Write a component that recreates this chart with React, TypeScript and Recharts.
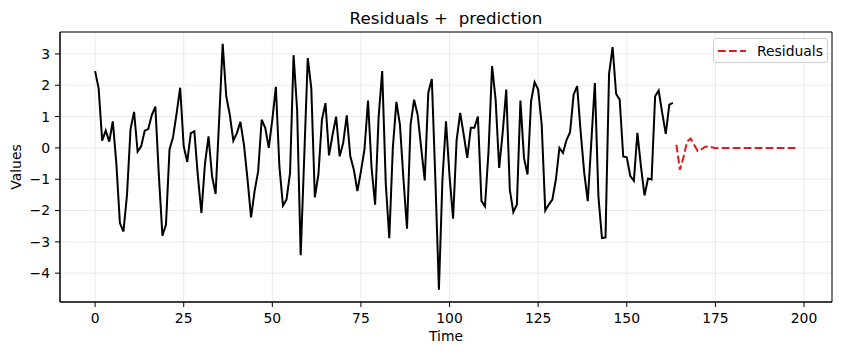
import React from 'react';
import {
  LineChart,
  Line,
  XAxis,
  YAxis,
  CartesianGrid,
  ReferenceArea,
} from 'recharts';

// observed residuals, t = 0..163
const residuals = [
  2.45, 1.9, 0.23, 0.55, 0.2, 0.85, -0.5, -2.4, -2.67, -1.5,
  0.6, 1.15, -0.12, 0.05, 0.55, 0.6, 1.05, 1.32, -0.9, -2.8,
  -2.45, -0.05, 0.35, 1.1, 1.92, 0.05, -0.45, 0.47, 0.53, -0.9,
  -2.08, -0.5, 0.37, -0.9, -1.47, 0.9, 3.32, 1.65, 1.06, 0.23,
  0.47, 0.83, 0.1, -1.0, -2.22, -1.38, -0.75, 0.9, 0.64, 0.0,
  0.9, 1.95, -0.6, -1.84, -1.65, -0.8, 2.96, 1.22, -3.43, -0.3,
  2.87, 1.9, -1.58, -0.85, 0.9, 1.43, -0.24, 0.42, 1.0, -0.27,
  0.16, 1.04, -0.27, -0.7, -1.38, -0.75, -0.05, 1.51, -0.64, -1.81,
  1.0, 2.45, -1.12, -2.88, 0.0, 1.47, 0.74, -1.0, -2.58, 0.74,
  1.54, 1.06, 0.0, -1.04, 1.76, 2.2, -1.0, -4.53, -1.0, 0.85,
  -0.9, -2.26, 0.26, 1.12, 0.42, -0.32, 0.64, 0.64, 1.0, -1.69,
  -1.87, -0.1, 2.61, 1.54, -0.64, 0.5, 1.86, -1.33, -2.05, -1.81,
  1.51, -0.32, -0.85, 1.49, 2.1, 1.86, 0.74, -2.0, -1.81, -1.65,
  -1.01, 0.0, -0.16, 0.25, 0.5, 1.7, 1.97, 0.5, -0.8, -1.7,
  0.2, 2.07, -1.55, -2.88, -2.86, 2.36, 3.22, 1.72, 1.54, -0.27,
  -0.3, -0.9, -1.05, 0.48, -0.59, -1.52, -0.98, -1.01, 1.65, 1.83,
  1.12, 0.45, 1.38, 1.44,
];

// forecast, t = 164..198
const prediction = [
  0.1, -0.7, -0.3, 0.2, 0.3, 0.1, -0.1, -0.05, 0.03, 0.05,
  0.02, -0.01, 0.0, 0.0, 0.0, 0.0, 0.0, 0.0, 0.0, 0.0,
  0.0, 0.0, 0.0, 0.0, 0.0, 0.0, 0.0, 0.0, 0.0, 0.0,
  0.0, 0.0, 0.0, 0.0, 0.0,
];

const xTicks = [0, 25, 50, 75, 100, 125, 150, 175, 200];
const yTicks = [-4, -3, -2, -1, 0, 1, 2, 3];

const data = [
  ...residuals.map((v, i) => ({ t: i, obs: v, pred: null as number | null })),
  ...prediction.map((v, j) => ({ t: residuals.length + j, obs: null as number | null, pred: v })),
];

const X_DOMAIN: [number, number] = [-9.9, 207.9];
const Y_DOMAIN: [number, number] = [-4.92, 3.7];
const FONT = '"DejaVu Sans", sans-serif';
const RED = '#e31a1c';
const DASH = '7.7 3.3';
const FS = 13.9;

const fmt = (v: number) => (v < 0 ? `\u2212${Math.abs(v)}` : `${v}`);

function LegendBox() {
  return (
    <div
      style={{
        position: 'absolute',
        left: 713,
        top: 38,
        width: 115,
        height: 25,
        boxSizing: 'border-box',
        border: '1px solid #d0d0d0',
        borderRadius: 3,
        background: 'rgba(255,255,255,0.8)',
        display: 'flex',
        alignItems: 'center',
        paddingLeft: 4,
        fontFamily: FONT,
        fontSize: FS,
        color: '#000',
      }}
    >
      <svg width={28} height={10} style={{ marginRight: 11 }}>
        <line x1={0} y1={5} x2={28} y2={5} stroke={RED} strokeWidth={2} strokeDasharray={DASH} />
      </svg>
      <span>Residuals</span>
    </div>
  );
}

export default function App() {
  const tick = { fontSize: FS, fill: '#000', fontFamily: FONT };
  return (
    <div style={{ position: 'absolute', left: 0, top: 0, width: 844, height: 355, background: '#fff' }}>
      <div
        style={{
          position: 'absolute',
          left: 60,
          width: 772,
          top: 8,
          lineHeight: '20px',
          textAlign: 'center',
          fontFamily: FONT,
          fontSize: 16.7,
          whiteSpace: 'pre',
          color: '#000',
        }}
      >
        {'Residuals +  prediction'}
      </div>
      <LineChart
        width={844}
        height={355}
        data={data}
        margin={{ top: 32, right: 12, bottom: 0, left: 0 }}
        style={{ fontFamily: FONT }}
      >
        <CartesianGrid stroke="#e6e6e6" strokeWidth={0.8} />
        <XAxis
          dataKey="t"
          type="number"
          domain={X_DOMAIN}
          ticks={xTicks}
          allowDataOverflow
          height={53}
          tick={tick}
          tickSize={5}
          tickMargin={6}
          tickLine={{ stroke: '#000' }}
          axisLine={{ stroke: '#000' }}
          label={{ value: 'Time', position: 'center', dy: 8, fontSize: FS, fill: '#000', fontFamily: FONT }}
        />
        <YAxis
          type="number"
          domain={Y_DOMAIN}
          ticks={yTicks}
          allowDataOverflow
          width={60}
          tick={tick}
          tickFormatter={fmt}
          tickSize={5}
          tickMargin={5}
          tickLine={{ stroke: '#000' }}
          axisLine={{ stroke: '#000' }}
          label={{ value: 'Values', angle: -90, position: 'center', dx: -14, fontSize: FS, fill: '#000', fontFamily: FONT }}
        />
        <ReferenceArea
          x1={X_DOMAIN[0]}
          x2={X_DOMAIN[1]}
          y1={Y_DOMAIN[0]}
          y2={Y_DOMAIN[1]}
          fill="none"
          stroke="#000"
          strokeWidth={1}
          fillOpacity={0}
        />
        <Line
          dataKey="obs"
          stroke="#000"
          strokeWidth={2}
          dot={false}
          activeDot={false}
          isAnimationActive={false}
        />
        <Line
          dataKey="pred"
          name="Residuals"
          stroke={RED}
          strokeWidth={2}
          strokeDasharray={DASH}
          dot={false}
          activeDot={false}
          isAnimationActive={false}
        />
      </LineChart>
      <LegendBox />
    </div>
  );
}
